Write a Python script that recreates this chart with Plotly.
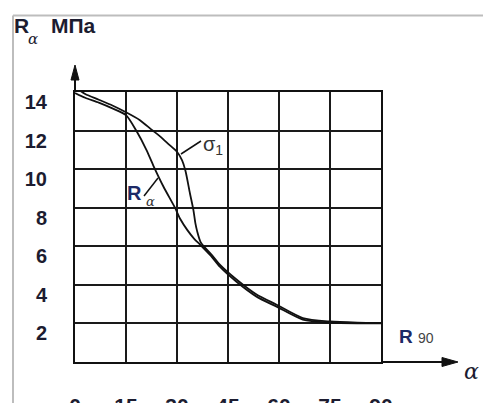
import plotly.graph_objects as go

# ---- data ----
x_ticks = [0, 15, 30, 45, 60, 75, 90]
x_labels = ["0", "15", "30", "45", "60", "75", "90"]
y_ticks = [2, 4, 6, 8, 10, 12, 14]
y_labels = ["2", "4", "6", "8", "10", "12", "14"]

alpha_r = [0, 3, 7, 11, 15, 18, 21, 23, 26, 29.4, 31, 33, 35, 37, 40, 42.6, 47.5, 53.4, 59.3, 67, 75, 83, 90]
r_alpha = [13.95, 13.7, 13.45, 13.15, 12.8, 12.0, 11.0, 10.2, 9.1, 8.0, 7.4, 6.85, 6.4, 6.05, 5.5, 4.94, 4.16, 3.39, 2.87, 2.2, 2.04, 2.0, 2.0]

alpha_s = [0, 3, 7, 11, 15, 19, 22.5, 25, 27.5, 30, 31.5, 32.5, 33.8, 34.8, 35.4, 35.9, 37, 40, 42.6, 47.5, 53.4, 59.3, 67, 75, 83, 90]
sigma_1 = [14.25, 13.9, 13.6, 13.3, 12.95, 12.55, 12.05, 11.7, 11.3, 10.9, 10.45, 9.9, 8.75, 7.9, 7.2, 6.8, 6.2, 5.6, 5.05, 4.28, 3.5, 2.97, 2.28, 2.1, 2.04, 2.02]

# ---- layout geometry (pixels) ----
W, H = 483, 403
L, R, T, B = 75, 381, 92, 362
XMAX, YMAX = 90, 14


def px_(px):
    return (px - L) / (R - L)


def py_(py):
    return (B - py) / (B - T)


def path(points):
    return "M " + " L ".join(f"{px_(a):.4f},{py_(b):.4f}" for a, b in points) + " Z"


INK = "#1c1c30"
BLUE = "#1d2a66"
FONT = "Liberation Sans, Arial, sans-serif"
SERIF = "DejaVu Serif, Liberation Serif, serif"

fig = go.Figure()
fig.add_trace(go.Scatter(x=alpha_r, y=r_alpha, mode="lines", line=dict(color="#111", width=1.8, shape="spline", smoothing=0.7),
                         cliponaxis=False, showlegend=False, hoverinfo="skip"))
fig.add_trace(go.Scatter(x=alpha_s, y=sigma_1, mode="lines", line=dict(color="#111", width=1.8, shape="spline", smoothing=0.7),
                         cliponaxis=False, showlegend=False, hoverinfo="skip"))

ann = []
# title
ann.append(dict(x=px_(12), y=py_(12), xref="paper", yref="paper", xanchor="left", yanchor="top", text="R",
                showarrow=False, font=dict(family=FONT, size=21, color=INK, weight="bold")))
ann.append(dict(x=px_(33), y=py_(39), xref="paper", yref="paper", xanchor="center", yanchor="middle", text="<i>α</i>",
                showarrow=False, font=dict(family=SERIF, size=15, color=INK)))
ann.append(dict(x=px_(49), y=py_(12), xref="paper", yref="paper", xanchor="left", yanchor="top", text="МПа",
                showarrow=False, font=dict(family=FONT, size=21, color=INK, weight="bold")))
# curve labels
ann.append(dict(x=px_(134), y=py_(193), xref="paper", yref="paper", xanchor="center", yanchor="middle", text="R",
                showarrow=False, font=dict(family=FONT, size=20, color=BLUE, weight="bold")))
ann.append(dict(x=px_(150), y=py_(201), xref="paper", yref="paper", xanchor="center", yanchor="middle", text="<i>α</i>",
                showarrow=False, font=dict(family=SERIF, size=13, color="#333")))
ann.append(dict(x=px_(213), y=py_(145), xref="paper", yref="paper", xanchor="center", yanchor="middle", text="σ<sub>1</sub>",
                showarrow=False, font=dict(family=FONT, size=20, color="#333")))
ann.append(dict(x=px_(397), y=py_(336), xref="paper", yref="paper", xanchor="left", yanchor="middle",
                text="<b>R</b> <span style='font-size:14px;color:#444'>90</span>",
                showarrow=False, font=dict(family=FONT, size=19, color=BLUE)))
ann.append(dict(x=px_(471), y=py_(371), xref="paper", yref="paper", xanchor="center", yanchor="middle", text="<i>α</i>",
                showarrow=False, font=dict(family=SERIF, size=22, color=INK)))

shapes = [
    # axis extensions and arrow heads
    dict(type="line", xref="paper", yref="paper", x0=1, y0=0, x1=px_(446), y1=0, line=dict(color="#111", width=2)),
    dict(type="path", xref="paper", yref="paper", path=path([(442, 357.5), (458, 362), (442, 366.5)]),
         fillcolor="#111", line=dict(color="#111", width=1)),
    dict(type="line", xref="paper", yref="paper", x0=0, y0=1, x1=0, y1=py_(78), line=dict(color="#111", width=2)),
    dict(type="path", xref="paper", yref="paper", path=path([(71, 80), (75, 65), (79, 80)]),
         fillcolor="#111", line=dict(color="#111", width=1)),
    # leader lines
    dict(type="line", xref="paper", yref="paper", x0=px_(144), y0=py_(196), x1=px_(158), y1=py_(178), line=dict(color="#111", width=1.5)),
    dict(type="line", xref="paper", yref="paper", x0=px_(181), y0=py_(154), x1=px_(201), y1=py_(141), line=dict(color="#111", width=1.5)),
    # light frame of the picture
    dict(type="line", xref="paper", yref="paper", x0=px_(13), y0=py_(15.5), x1=px_(13), y1=py_(410), line=dict(color="#bdbdbd", width=2)),
    dict(type="line", xref="paper", yref="paper", x0=px_(13), y0=py_(15.5), x1=px_(490), y1=py_(15.5), line=dict(color="#bdbdbd", width=2)),
]

fig.update_layout(
    width=W, height=H, margin=dict(l=L, r=W - R, t=T, b=H - B, autoexpand=False),
    paper_bgcolor="white", plot_bgcolor="white",
    annotations=ann, shapes=shapes,
    xaxis=dict(range=[0, XMAX], tickmode="array", tickvals=x_ticks, ticktext=x_labels, automargin=False,
               showgrid=True, gridcolor="#1a1a1a", gridwidth=2, zeroline=False,
               showline=True, mirror=True, linecolor="#111", linewidth=2, ticks="", ticklabelstandoff=24,
               tickfont=dict(family=FONT, size=21, color=INK, weight="bold"), fixedrange=True),
    yaxis=dict(range=[0, YMAX], tickmode="array", tickvals=y_ticks, ticktext=y_labels, automargin=False,
               showgrid=True, gridcolor="#1a1a1a", gridwidth=2, zeroline=False,
               showline=True, mirror=True, linecolor="#111", linewidth=2, ticks="", ticklabelstandoff=22,
               ticklabelshift=10, tickfont=dict(family=FONT, size=20, color=INK, weight="bold"), fixedrange=True),
)

fig.write_html("out.html", config={"displayModeBar": False, "staticPlot": True},
               post_script="document.body.style.margin='0';document.body.style.overflow='hidden';")
